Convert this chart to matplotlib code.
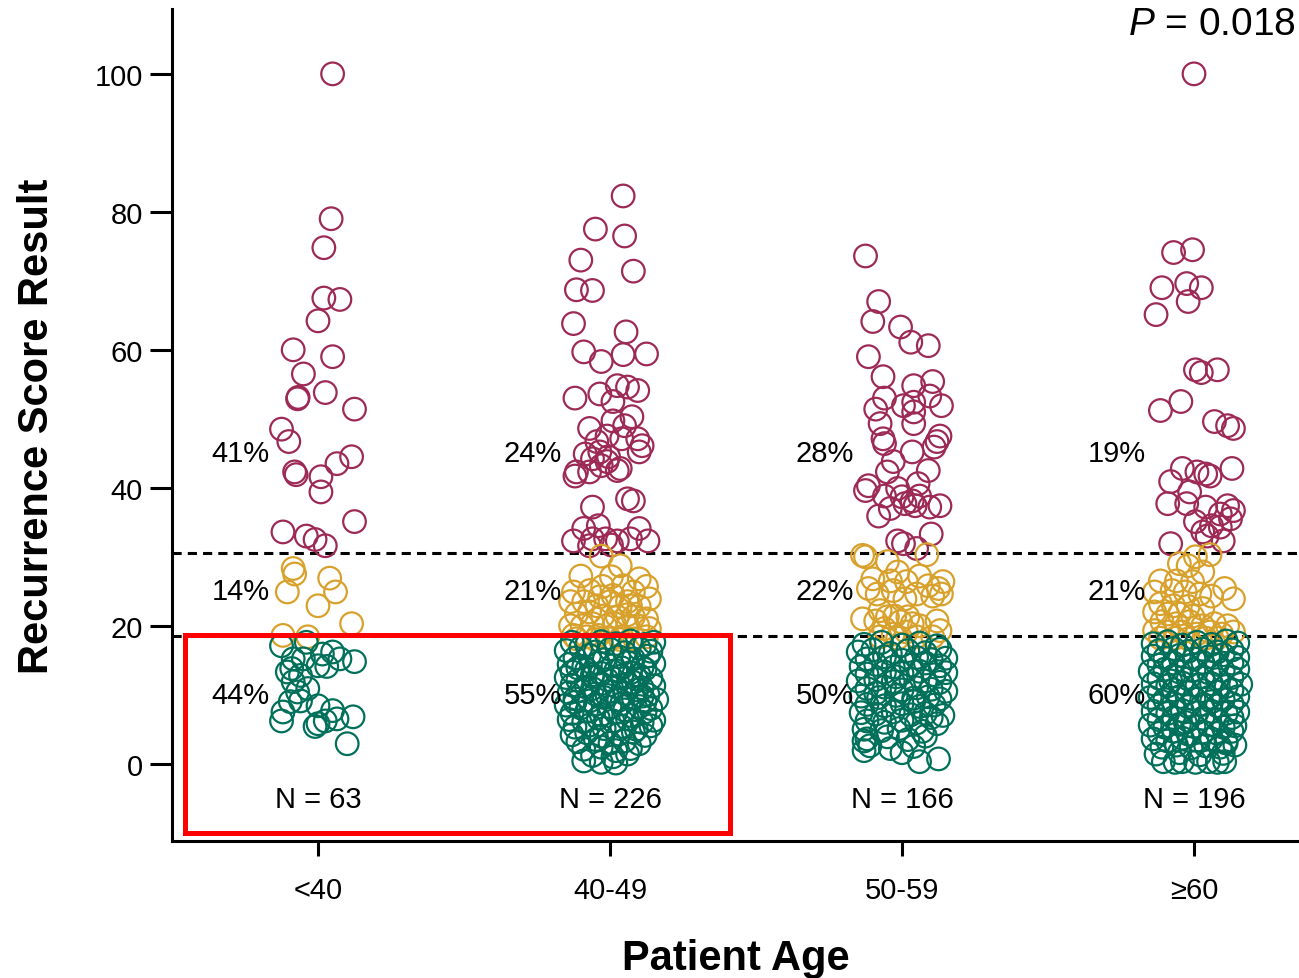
import matplotlib
matplotlib.use("Agg")
import matplotlib.pyplot as plt
from matplotlib.patches import Rectangle

plt.rcParams['font.family'] = ['Liberation Sans', 'DejaVu Sans']
plt.rcParams['mathtext.fontset'] = 'custom'
plt.rcParams['mathtext.it'] = 'Liberation Sans:italic'
plt.rcParams['mathtext.rm'] = 'Liberation Sans'

# categories and summary labels
groups = ['<40', '40-49', '50-59', '≥60']
n_labels = ['N = 63', 'N = 226', 'N = 166', 'N = 196']
pct_high = ['41%', '24%', '28%', '19%']
pct_mid = ['14%', '21%', '22%', '21%']
pct_low = ['44%', '55%', '50%', '60%']
p_text = r'$\mathit{P}$ = 0.018'

# points per group: (horizontal jitter, recurrence score)
pts_lt40 = [
    (0.05, 100), (0.045, 79.0), (0.02, 74.8), (0.02, 67.5), (0.075, 67.3), (0.0, 64.2),
    (-0.085, 60.0), (0.05, 59.0), (-0.05, 56.5), (-0.07, 52.9), (-0.068, 53.1), (0.025, 53.8),
    (0.125, 51.4), (-0.125, 48.5), (-0.10, 46.7), (-0.08, 42.3), (-0.075, 41.9), (0.01, 41.6),
    (0.01, 39.4), (0.065, 43.5), (0.115, 44.5), (0.125, 35.1), (-0.12, 33.6), (-0.04, 33.0),
    (-0.01, 32.5), (0.025, 31.6),
    (-0.085, 28.3), (-0.08, 27.5), (0.04, 26.9), (-0.105, 24.9), (0.06, 24.9), (0.0, 22.9),
    (0.115, 20.3), (-0.12, 18.6), (-0.035, 18.4),
    (-0.125, 17.1), (-0.04, 17.6), (-0.085, 15.2), (0.015, 15.9), (0.05, 16.2), (0.075, 15.2),
    (0.125, 14.8), (-0.09, 13.8), (-0.06, 12.8), (0.0, 14.2), (0.03, 14.1), (-0.085, 11.9),
    (-0.07, 10.4), (-0.035, 10.9), (-0.06, 9.1), (0.0, 8.4), (-0.12, 7.5), (-0.125, 6.2),
    (0.05, 7.7), (0.065, 6.5), (0.12, 6.8), (0.0, 5.8), (-0.01, 5.4), (0.025, 6.2),
    (0.10, 2.9), (-0.05, 15.2), (-0.105, 13.3), (-0.095, 9.0),
]

pts_40_49 = [
    (0.045, 82.3), (-0.05, 77.5), (0.05, 76.5), (-0.10, 73.0), (0.08, 71.4), (-0.115, 68.7),
    (-0.06, 68.6), (-0.125, 63.8), (0.055, 62.6), (-0.09, 59.7), (-0.03, 58.3), (0.045, 59.3),
    (0.125, 59.4), (0.025, 54.8), (0.06, 54.6), (0.095, 54.1), (-0.12, 53.0), (-0.035, 53.6),
    (0.01, 52.5), (-0.07, 48.6), (0.01, 49.7), (0.05, 49.0), (-0.01, 47.5), (0.04, 47.1),
    (0.095, 47.1), (0.11, 46.1), (-0.045, 46.7), (-0.035, 45.2), (-0.06, 44.2), (-0.01, 43.8),
    (-0.03, 43.2), (-0.115, 42.3), (0.035, 42.8), (0.10, 45.2), (-0.12, 41.7), (-0.07, 42.3),
    (0.025, 42.5), (-0.06, 37.2), (0.06, 38.4), (0.08, 38.1), (0.10, 34.1), (-0.09, 34.1),
    (-0.04, 34.5), (-0.125, 32.3), (-0.06, 32.6), (-0.015, 32.6), (0.025, 32.3), (0.07, 32.6),
    (0.13, 32.3), (-0.07, 31.6), (0.005, 31.7), (-0.005, 44.5), (0.075, 50.3), (-0.085, 44.9),
    (-0.03, 30.1), (0.035, 28.7), (-0.10, 27.2), (0.005, 27.1), (0.10, 26.8), (0.125, 25.7),
    (-0.125, 24.9), (-0.07, 25.1), (-0.025, 25.7), (0.045, 25.8), (0.08, 24.9), (0.135, 23.9),
    (-0.135, 23.5), (-0.09, 23.5), (-0.045, 22.9), (0.0, 23.5), (0.035, 22.8), (0.07, 22.9),
    (0.10, 22.8), (-0.115, 21.7), (-0.07, 22.0), (-0.025, 21.4), (0.025, 21.3), (0.08, 21.3),
    (0.125, 21.0), (-0.135, 20.0), (-0.095, 20.0), (-0.06, 20.3), (-0.015, 19.9), (0.015, 20.3),
    (0.06, 19.9), (0.095, 20.0), (0.135, 19.6), (-0.125, 18.6), (-0.08, 18.4), (-0.04, 18.6),
    (0.0, 18.1), (0.04, 18.4), (0.085, 18.1), (0.125, 18.4), (-0.115, 18.1), (-0.05, 18.0),
    (0.035, 18.0), (0.06, 21.6), (-0.035, 24.2), (0.01, 24.4), (0.06, 23.5),
    (-0.13, 17.6), (-0.08, 17.2), (-0.03, 17.7), (0.02, 17.4), (0.07, 17.8), (0.12, 17.3), (0.15, 17.6),
    (-0.15, 16.4), (-0.10, 16.8), (-0.05, 16.2), (0.0, 16.6), (0.05, 16.1), (0.10, 16.7), (0.14, 16.3),
    (-0.12, 15.3), (-0.07, 15.7), (-0.02, 15.1), (0.03, 15.5), (0.08, 15.2), (0.13, 15.6),
    (-0.14, 14.4), (-0.09, 14.1), (-0.04, 14.6), (0.01, 14.2), (0.06, 14.7), (0.11, 14.0), (0.15, 14.5),
    (-0.13, 13.3), (-0.08, 13.6), (-0.03, 13.1), (0.02, 13.5), (0.07, 13.2), (0.12, 13.7),
    (-0.15, 12.5), (-0.11, 12.1), (-0.06, 12.6), (-0.01, 12.2), (0.04, 12.7), (0.09, 12.3), (0.14, 12.4),
    (-0.13, 11.4), (-0.08, 11.1), (-0.03, 11.6), (0.02, 11.2), (0.06, 11.5), (0.11, 11.0), (0.15, 11.3),
    (-0.14, 10.3), (-0.10, 10.6), (-0.05, 10.1), (0.0, 10.5), (0.05, 10.2), (0.09, 10.7), (0.13, 10.0),
    (-0.12, 9.4), (-0.07, 9.1), (-0.02, 9.6), (0.03, 9.2), (0.08, 9.5), (0.12, 9.0), (0.16, 9.3),
    (-0.15, 8.5), (-0.10, 8.1), (-0.05, 8.6), (0.0, 8.2), (0.04, 8.7), (0.10, 8.3), (0.14, 8.0),
    (-0.13, 7.3), (-0.08, 7.6), (-0.03, 7.1), (0.02, 7.4), (0.07, 7.0), (0.12, 7.5),
    (-0.14, 6.4), (-0.09, 6.1), (-0.04, 6.6), (0.01, 6.2), (0.06, 6.5), (0.11, 6.0), (0.15, 6.3),
    (-0.12, 5.3), (-0.07, 5.6), (-0.02, 5.1), (0.04, 5.4), (0.09, 5.0), (0.14, 5.5),
    (-0.13, 4.2), (-0.08, 4.5), (-0.03, 4.0), (0.03, 4.3), (0.08, 4.6), (0.12, 4.1),
    (-0.11, 3.2), (-0.05, 3.5), (0.0, 3.0), (0.05, 3.3), (0.10, 2.9),
    (-0.09, 2.1), (-0.03, 2.4), (0.02, 1.9), (0.07, 2.2),
    (-0.06, 1.2), (0.01, 1.0), (0.06, 1.4),
    (-0.09, 0.4), (-0.03, 0.2), (0.02, 0.1),
    (-0.11, 13.9), (0.04, 13.9), (-0.06, 10.9), (0.08, 11.8), (-0.01, 9.9), (0.11, 9.8),
    (-0.12, 8.9), (0.05, 7.8), (-0.06, 12.9), (0.10, 12.8),
]

pts_50_59 = [
    (-0.125, 73.6), (-0.08, 67.0), (-0.10, 64.1), (-0.005, 63.3), (0.03, 61.1), (0.09, 60.6),
    (-0.115, 59.0), (-0.065, 56.1), (0.04, 54.8), (0.105, 55.4), (-0.06, 53.0), (0.095, 53.3),
    (-0.09, 51.4), (0.005, 51.9), (0.04, 52.4), (0.135, 51.9), (0.04, 51.0), (-0.075, 49.3),
    (0.04, 49.3), (-0.065, 47.1), (-0.06, 46.4), (0.13, 47.5), (0.12, 46.7), (0.11, 45.9),
    (0.035, 45.2), (-0.03, 43.8), (0.09, 42.5), (-0.05, 42.3), (-0.115, 40.3), (-0.125, 39.6),
    (0.055, 40.6), (-0.06, 38.8), (-0.015, 39.9), (0.0, 38.7), (0.035, 38.1), (0.06, 38.8),
    (0.095, 37.2), (0.13, 37.4), (-0.08, 35.9), (-0.04, 37.0), (0.01, 37.7), (-0.015, 32.3),
    (0.05, 31.2), (0.10, 33.3), (0.005, 31.9), (0.045, 37.4),
    (-0.135, 30.2), (-0.125, 30.0), (-0.05, 29.3), (0.085, 30.3), (-0.10, 26.8), (-0.115, 25.4),
    (-0.04, 26.5), (-0.015, 27.8), (0.015, 26.4), (0.06, 27.2), (0.09, 25.8), (0.125, 25.4),
    (0.14, 26.4), (-0.085, 24.6), (-0.03, 25.1), (0.01, 23.9), (0.05, 24.6), (0.105, 24.3),
    (0.135, 24.6), (-0.075, 22.2), (-0.05, 21.3), (-0.025, 21.4), (0.02, 21.3), (-0.09, 20.7),
    (0.035, 20.3), (-0.005, 20.6), (0.06, 20.0), (0.12, 20.7), (0.13, 19.3), (-0.06, 19.6),
    (-0.03, 18.8), (0.015, 19.1), (-0.075, 18.4), (-0.015, 18.2), (0.105, 18.4), (0.05, 18.4),
    (-0.135, 21.0),
    (-0.13, 17.3), (-0.07, 17.6), (0.0, 17.2), (0.06, 17.5), (0.12, 17.1),
    (-0.15, 16.2), (-0.10, 16.5), (-0.04, 16.0), (0.02, 16.4), (0.08, 16.1), (0.13, 16.6),
    (-0.12, 15.2), (-0.06, 15.5), (0.0, 15.0), (0.05, 15.4), (0.10, 15.1), (0.15, 15.3),
    (-0.14, 14.1), (-0.09, 14.4), (-0.03, 14.0), (0.03, 14.3), (0.08, 14.6), (0.13, 14.2),
    (-0.12, 13.0), (-0.06, 13.3), (0.0, 13.1), (0.06, 13.4), (0.11, 12.9), (0.15, 13.2),
    (-0.15, 12.0), (-0.09, 12.2), (-0.03, 11.9), (0.03, 12.3), (0.08, 12.0), (0.13, 11.8),
    (-0.12, 10.9), (-0.06, 11.1), (0.0, 10.7), (0.05, 11.0), (0.10, 10.8), (0.15, 10.5),
    (-0.14, 9.8), (-0.08, 9.6), (-0.02, 9.9), (0.04, 9.5), (0.09, 9.7), (0.13, 9.4),
    (-0.12, 8.6), (-0.06, 8.4), (0.0, 8.7), (0.06, 8.3), (0.11, 8.5),
    (-0.14, 7.4), (-0.09, 7.2), (-0.03, 7.5), (0.03, 7.1), (0.08, 7.3), (0.14, 7.0),
    (-0.12, 6.2), (-0.06, 6.0), (0.0, 6.3), (0.05, 5.9), (0.12, 5.8),
    (-0.13, 5.0), (-0.07, 4.8), (-0.01, 5.1), (0.07, 4.7),
    (-0.12, 3.6), (-0.05, 3.9), (0.02, 3.5), (0.08, 4.0),
    (-0.13, 3.3), (-0.11, 2.6), (-0.04, 2.2), (0.04, 2.5),
    (-0.13, 1.9), (0.0, 1.6), (0.06, 0.3), (0.125, 0.7),
    (-0.02, 12.6), (0.04, 9.0), (-0.09, 10.2), (0.10, 6.7),
]

pts_ge60 = [
    (0.0, 100), (-0.07, 74.1), (-0.005, 74.5), (-0.11, 69.0), (-0.025, 69.6), (0.025, 69.0),
    (-0.02, 67.0), (-0.13, 65.1), (0.005, 57.1), (0.025, 56.7), (0.08, 57.1), (-0.045, 52.5),
    (-0.115, 51.2), (0.07, 49.6), (0.115, 49.0), (0.135, 48.6), (0.13, 42.8), (-0.04, 42.8),
    (0.01, 42.3), (0.04, 42.0), (0.055, 41.7), (-0.08, 40.9), (-0.015, 39.4), (-0.09, 37.7),
    (-0.025, 37.7), (0.04, 37.2), (0.115, 37.4), (0.135, 36.7), (0.125, 35.5), (0.005, 35.1),
    (0.06, 34.5), (0.09, 34.3), (0.045, 33.0), (0.10, 32.3), (-0.08, 31.9), (0.03, 33.6),
    (0.09, 36.2),
    (0.055, 30.3), (0.005, 30.0), (-0.05, 29.0), (-0.02, 28.7), (0.03, 27.8), (-0.115, 26.5),
    (-0.06, 26.5), (-0.005, 26.4), (0.105, 25.4), (0.135, 23.9), (-0.135, 24.9), (-0.075, 25.1),
    (-0.03, 24.9), (0.02, 24.6), (0.06, 24.3), (-0.115, 23.2), (-0.07, 22.9), (-0.02, 22.8),
    (0.03, 22.5), (-0.135, 22.0), (-0.09, 21.7), (-0.05, 21.7), (-0.005, 21.4), (-0.11, 20.6),
    (-0.06, 20.3), (-0.015, 20.6), (0.03, 20.0), (0.07, 20.3), (0.115, 20.0), (-0.135, 19.3),
    (-0.09, 19.1), (-0.04, 19.1), (0.01, 18.8), (0.055, 19.1), (0.095, 18.8), (0.135, 19.1),
    (-0.115, 18.2), (-0.065, 18.2), (-0.02, 18.1), (0.04, 18.2), (0.08, 18.2),
    (-0.14, 17.4), (-0.09, 17.7), (-0.04, 17.2), (0.01, 17.6), (0.06, 17.3), (0.11, 17.8), (0.15, 17.5),
    (-0.12, 16.4), (-0.07, 16.7), (-0.02, 16.3), (0.03, 16.6), (0.08, 16.2), (0.13, 16.5),
    (-0.14, 15.6), (-0.10, 15.3), (-0.05, 15.7), (0.0, 15.2), (0.05, 15.5), (0.10, 15.8), (0.15, 15.4),
    (-0.12, 14.3), (-0.07, 14.6), (-0.02, 14.2), (0.03, 14.7), (0.08, 14.4), (0.13, 14.6),
    (-0.15, 13.4), (-0.10, 13.7), (-0.05, 13.3), (0.0, 13.6), (0.05, 13.2), (0.10, 13.5), (0.15, 13.7),
    (-0.12, 12.4), (-0.07, 12.7), (-0.02, 12.3), (0.03, 12.6), (0.08, 12.2), (0.13, 12.5),
    (-0.14, 11.6), (-0.09, 11.3), (-0.04, 11.7), (0.01, 11.4), (0.06, 11.6), (0.11, 11.2), (0.16, 11.5),
    (-0.12, 10.4), (-0.07, 10.7), (-0.02, 10.3), (0.03, 10.6), (0.08, 10.4), (0.13, 10.7),
    (-0.15, 9.6), (-0.10, 9.3), (-0.05, 9.7), (0.0, 9.4), (0.05, 9.6), (0.10, 9.3), (0.15, 9.7),
    (-0.12, 8.4), (-0.07, 8.7), (-0.02, 8.3), (0.03, 8.6), (0.08, 8.4), (0.13, 8.7),
    (-0.14, 7.6), (-0.09, 7.3), (-0.04, 7.7), (0.01, 7.4), (0.06, 7.6), (0.11, 7.3), (0.15, 7.5),
    (-0.12, 6.4), (-0.07, 6.7), (-0.02, 6.3), (0.03, 6.6), (0.08, 6.4), (0.13, 6.7),
    (-0.15, 5.6), (-0.10, 5.3), (-0.05, 5.7), (0.0, 5.4), (0.05, 5.6), (0.10, 5.3), (0.14, 5.5),
    (-0.12, 4.4), (-0.07, 4.7), (-0.02, 4.3), (0.03, 4.6), (0.08, 4.4), (0.13, 4.7),
    (-0.14, 3.6), (-0.09, 3.3), (-0.04, 3.7), (0.01, 3.4), (0.06, 3.6), (0.11, 3.3),
    (-0.11, 2.4), (-0.06, 2.7), (-0.01, 2.3), (0.04, 2.6), (0.09, 2.4), (0.14, 2.7),
    (-0.13, 1.4), (-0.05, 1.6), (0.02, 1.3), (0.10, 1.5),
    (-0.105, 0.3), (-0.065, 0.2), (-0.04, 0.3), (0.005, 0.2), (0.05, 0.3), (0.08, 0.2), (0.105, 0.3),
    (-0.08, 12.0), (0.06, 9.0), (-0.03, 6.0), (0.11, 3.0),
]

all_points = [pts_lt40, pts_40_49, pts_50_59, pts_ge60]

high_color = '#9C2A55'
mid_color = '#D8A12C'
low_color = '#00705A'


def score_color(v):
    if v >= 31:
        return high_color
    if v >= 18:
        return mid_color
    return low_color


fig = plt.figure(figsize=(12.99, 9.79), dpi=100)
ax = fig.add_axes([172 / 1299, 137 / 979, 1127 / 1299, 832 / 979])

for i, pts in enumerate(all_points):
    xs = [i + p[0] for p in pts]
    ys = [p[1] for p in pts]
    cols = [score_color(v) for v in ys]
    ax.scatter(xs, ys, s=265, facecolors='none', edgecolors=cols, linewidths=1.6, zorder=3)
    ax.text(i - 0.165, 45, pct_high[i], ha='right', va='center', fontsize=21)
    ax.text(i - 0.165, 25, pct_mid[i], ha='right', va='center', fontsize=21)
    ax.text(i - 0.165, 10, pct_low[i], ha='right', va='center', fontsize=21)
    ax.text(i, -5.1, n_labels[i], ha='center', va='center', fontsize=21)

ax.axhline(30.5, color='black', lw=2.2, ls=(0, (3, 2)), zorder=2)
ax.axhline(18.5, color='black', lw=2.2, ls=(0, (3, 2)), zorder=2)

ax.set_xlim(-0.5, -0.5 + 1127 / 292)
ax.set_ylim(-11.2, 109.4)
ax.set_xticks(range(len(groups)))
ax.set_xticklabels(groups)
ax.set_yticks([0, 20, 40, 60, 80, 100])

for side in ['top', 'right']:
    ax.spines[side].set_visible(False)
for side in ['left', 'bottom']:
    ax.spines[side].set_linewidth(2.2)
ax.tick_params(axis='y', length=16, width=2.2, pad=5, labelsize=21)
ax.tick_params(axis='x', length=11, width=2.2, pad=14, labelsize=21)

ax.set_xlabel('Patient Age', fontsize=30, fontweight='bold', labelpad=25)
ax.set_ylabel('Recurrence Score Result', fontsize=30, fontweight='bold', labelpad=27)

fig.text(1128 / 1299, 1 - 25 / 979, p_text, fontsize=28, ha='left', va='center')

# red highlight box around the first two low-score clusters
ax.add_patch(Rectangle((-0.455, -10.1), 1.866, 28.8, fill=False, ec='#FF0000', lw=3.6,
                       clip_on=False, zorder=5))

fig.savefig('out.png', dpi=100)
